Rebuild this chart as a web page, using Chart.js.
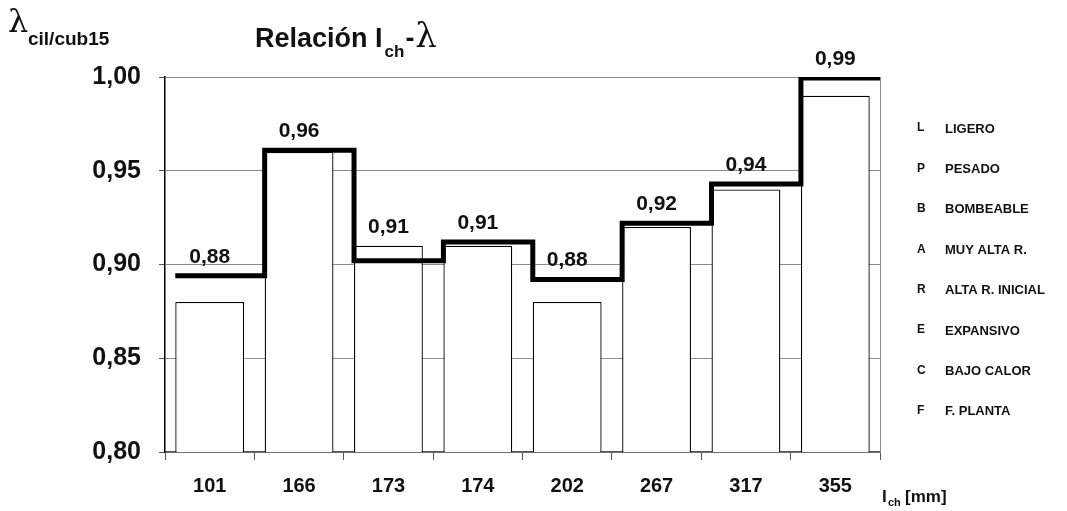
<!DOCTYPE html>
<html>
<head>
<meta charset="utf-8">
<script src="https://cdn.jsdelivr.net/npm/chart.js@4/dist/chart.umd.min.js"></script>
<style>
  html, body { margin: 0; padding: 0; background: #fff; }
  #wrap { width: 1067px; height: 511px; }
</style>
</head>
<body>
<div id="wrap"><canvas id="chart" width="1067" height="511"></canvas></div>
<script>
// categories: Ich [mm]
const categories = ['101', '166', '173', '174', '202', '267', '317', '355'];
// white bars (lambda cil/cub15)
const barValues = [0.88, 0.96, 0.91, 0.91, 0.88, 0.92, 0.94, 0.99];
// thick stepped line levels
const stepValues = [0.894, 0.961, 0.902, 0.912, 0.892, 0.922, 0.943, 0.9995];
// value labels shown over each step
const valueLabels = ['0,88', '0,96', '0,91', '0,91', '0,88', '0,92', '0,94', '0,99'];
const yTicks = [0.80, 0.85, 0.90, 0.95, 1.00];
const legendCodes = ['L', 'P', 'B', 'A', 'R', 'E', 'C', 'F'];
const legendNames = ['LIGERO', 'PESADO', 'BOMBEABLE', 'MUY ALTA R.', 'ALTA R. INICIAL', 'EXPANSIVO', 'BAJO CALOR', 'F. PLANTA'];

const BOLD = 'bold {s}px "Liberation Sans", Arial, sans-serif';
const font = s => BOLD.replace('{s}', s);
const barPct = 0.77;

// step line starts at each bar's left edge, last level runs to the right border
const stepPoints = stepValues.map((v, i) => ({ x: i + 0.5 - barPct / 2, y: v }));
stepPoints.push({ x: categories.length, y: stepValues[stepValues.length - 1] });

const decorPlugin = {
    id: 'decor',
    afterDraw(chart) {
        const ctx = chart.ctx;
        const area = chart.chartArea;
        const xs = chart.scales.x;
        const ys = chart.scales.y;
        ctx.save();

        // right border of the plot
        ctx.strokeStyle = '#8c8c8c';
        ctx.lineWidth = 1;
        ctx.beginPath();
        ctx.moveTo(area.right + 0.5, area.top);
        ctx.lineTo(area.right + 0.5, area.bottom);
        ctx.stroke();

        ctx.fillStyle = '#111';

        // value labels
        ctx.font = font(21);
        ctx.textAlign = 'center';
        ctx.textBaseline = 'middle';
        valueLabels.forEach((t, i) => {
            const top = Math.max(barValues[i], stepValues[i]);
            ctx.fillText(t, xs.getPixelForValue(i), ys.getPixelForValue(top) - 19);
        });

        // title
        ctx.textAlign = 'left';
        ctx.textBaseline = 'alphabetic';
        let x = 255;
        ctx.font = font(27);
        ctx.fillText('Relación I', x, 47);
        x += ctx.measureText('Relación I').width + 2;
        ctx.font = font(17);
        ctx.fillText('ch', x, 57);
        x += ctx.measureText('ch').width + 1;
        ctx.font = font(27);
        ctx.fillText('-', x, 47);
        x += ctx.measureText('-').width + 1;
        ctx.font = '34px "DejaVu Serif", serif';
        ctx.fillText('λ', x, 47);

        // y axis title
        ctx.font = '32px "DejaVu Serif", serif';
        ctx.fillText('λ', 8, 32);
        ctx.font = font(19);
        ctx.fillText('cil/cub15', 28, 45);

        // x axis title
        ctx.font = font(17);
        ctx.fillText('I', 882, 502);
        ctx.font = font(11);
        ctx.fillText('ch', 888, 506);
        ctx.font = font(17);
        ctx.fillText('[mm]', 905, 502);

        // legend on the right
        ctx.textBaseline = 'middle';
        legendCodes.forEach((c, i) => {
            const y = 129 + i * 40.4;
            ctx.font = font(12);
            ctx.fillText(c, 917, y - 1);
            ctx.font = font(13);
            ctx.fillText(legendNames[i], 945, y);
        });

        ctx.restore();
    }
};

new Chart(document.getElementById('chart'), {
    type: 'bar',
    data: {
        labels: categories,
        datasets: [
            {
                type: 'line',
                data: stepPoints,
                xAxisID: 'x2',
                stepped: true,
                borderColor: '#000',
                borderWidth: 5,
                pointRadius: 0,
                fill: false,
                order: 0,
            },
            {
                type: 'bar',
                data: barValues,
                backgroundColor: '#fff',
                borderColor: '#000',
                borderWidth: 1.3,
                grouped: false,
                categoryPercentage: 1,
                barPercentage: barPct,
                order: 1,
            }
        ]
    },
    options: {
        responsive: false,
        animation: false,
        layout: { padding: { left: 0, right: 187, top: 77, bottom: 0 } },
        plugins: {
            legend: { display: false },
            title: { display: false },
            tooltip: { enabled: false },
        },
        scales: {
            x: {
                type: 'category',
                offset: true,
                grid: { display: true, drawOnChartArea: false, offset: true, tickLength: 8, color: '#555' },
                border: { color: '#555', width: 1.5 },
                ticks: { color: '#111', font: { family: '"Liberation Sans", Arial, sans-serif', size: 20, weight: 'bold' }, padding: 14 },
                afterFit: s => { s.height = 59; },
            },
            x2: {
                type: 'linear',
                display: false,
                offset: false,
                grid: { offset: false },
                min: 0,
                max: categories.length,
            },
            y: {
                min: yTicks[0],
                max: yTicks[yTicks.length - 1],
                afterBuildTicks: s => { s.ticks = yTicks.map(v => ({ value: v })); },
                grid: { color: '#8c8c8c', lineWidth: 1, tickLength: 6, tickColor: '#555' },
                border: { color: '#000', width: 1.5 },
                ticks: {
                    color: '#111',
                    font: { family: '"Liberation Sans", Arial, sans-serif', size: 25, weight: 'bold' },
                    padding: 18,
                    callback: v => v.toFixed(2).replace('.', ','),
                },
                afterFit: s => { s.width = 165; },
            }
        }
    },
    plugins: [decorPlugin],
});
</script>
</body>
</html>
